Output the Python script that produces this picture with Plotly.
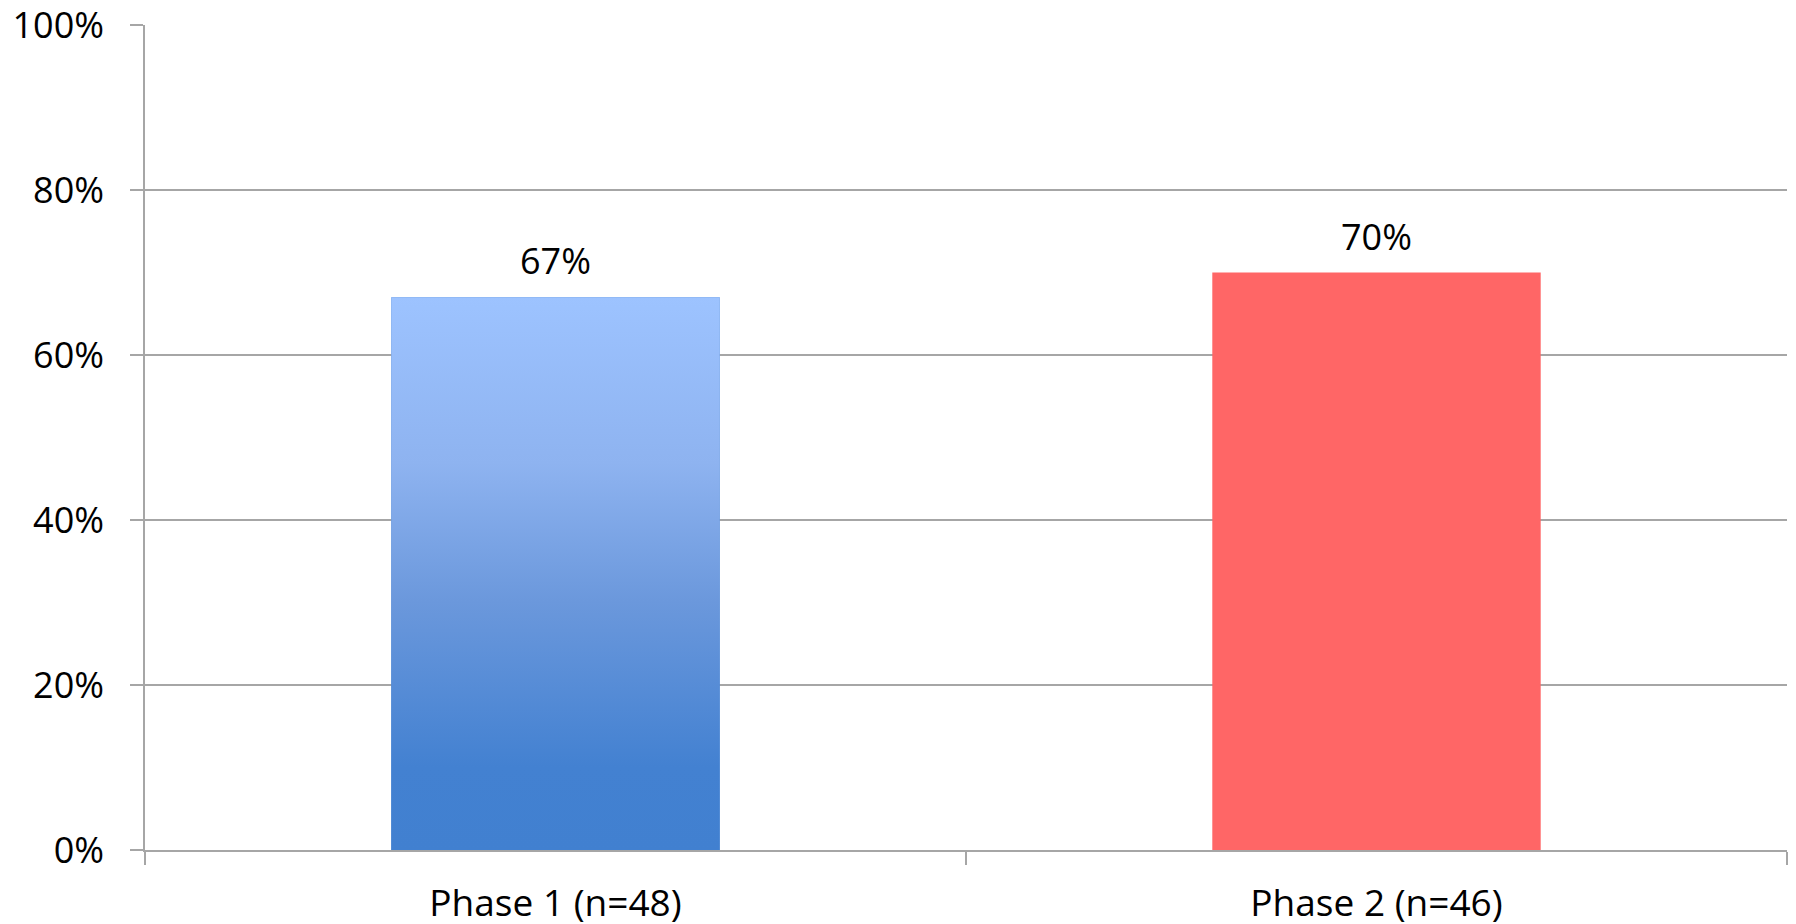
import plotly.graph_objects as go

categories = ["Phase 1 (n=48)", "Phase 2 (n=46)"]
values = [0.67, 0.70]
label_texts = ["67%", "70%"]
bar_colors = ["#4180D0", "#FF6666"]
y_tickvals = [0, 0.2, 0.4, 0.6, 0.8, 1.0]
y_ticktext = ["0%", "20%", "40%", "60%", "80%", "100%"]

BAR_WIDTH = 0.4
FONT = "Open Sans"
FSIZE = 36
GRID = "#A6A6A6"

fig = go.Figure()

fig.add_trace(go.Bar(
    x=categories, y=values, width=BAR_WIDTH,
    marker=dict(color=bar_colors, line=dict(width=0)),
    hoverinfo="x+y", showlegend=False,
))

# vertical gradient fill for the first bar, built from its value
i0 = 0
half = BAR_WIDTH / 2
fig.add_trace(go.Scatter(
    x=[i0 - half, i0 + half, i0 + half, i0 - half, i0 - half],
    y=[0, 0, values[i0], values[i0], 0],
    xaxis="x2", yaxis="y",
    mode="lines", line=dict(width=0),
    fill="toself",
    fillgradient=dict(
        type="vertical",
        colorscale=[[0, "#4180D0"], [0.15, "#4381D1"], [0.45, "#6B98DC"],
                    [0.7, "#8EB3F0"], [1, "#9DC3FF"]],
        start=0, stop=values[i0],
    ),
    hoverinfo="skip", showlegend=False,
))

for cat, v, t in zip(categories, values, label_texts):
    fig.add_annotation(
        x=cat, y=v, text=t, showarrow=False, xref="x", yref="y",
        yanchor="bottom", yshift=10,
        font=dict(family=FONT, size=FSIZE, color="#000000"),
    )

fig.update_layout(
    width=1796, height=924,
    margin=dict(l=145, r=9, t=25, b=74, autoexpand=False),
    paper_bgcolor="white", plot_bgcolor="white",
    font=dict(family=FONT, size=FSIZE, color="#000000"),
    xaxis=dict(
        type="category", range=[-0.5, 1.5], automargin=False,
        tickson="boundaries", ticks="outside", ticklen=13, tickwidth=1.5,
        tickcolor=GRID, showline=True, linecolor=GRID, linewidth=1.5,
        showgrid=False, zeroline=False, ticklabelstandoff=20,
        tickfont=dict(family=FONT, size=37),
    ),
    xaxis2=dict(
        overlaying="x", range=[-0.5, 1.5], visible=False,
        showgrid=False, zeroline=False,
    ),
    yaxis=dict(
        range=[0, 1], tickvals=y_tickvals, ticktext=y_ticktext, automargin=False,
        ticks="outside", ticklen=13, tickwidth=1.5, tickcolor=GRID,
        showline=True, linecolor=GRID, linewidth=1.5,
        showgrid=True, gridcolor=GRID, gridwidth=1.5,
        zeroline=False, ticklabelstandoff=19, ticklabeloverflow="allow",
        tickfont=dict(family=FONT, size=FSIZE),
    ),
)

fig.write_html(
    "out.html",
    config={"displayModeBar": False},
    post_script="document.body.style.margin='0';document.body.style.overflow='hidden';",
)
